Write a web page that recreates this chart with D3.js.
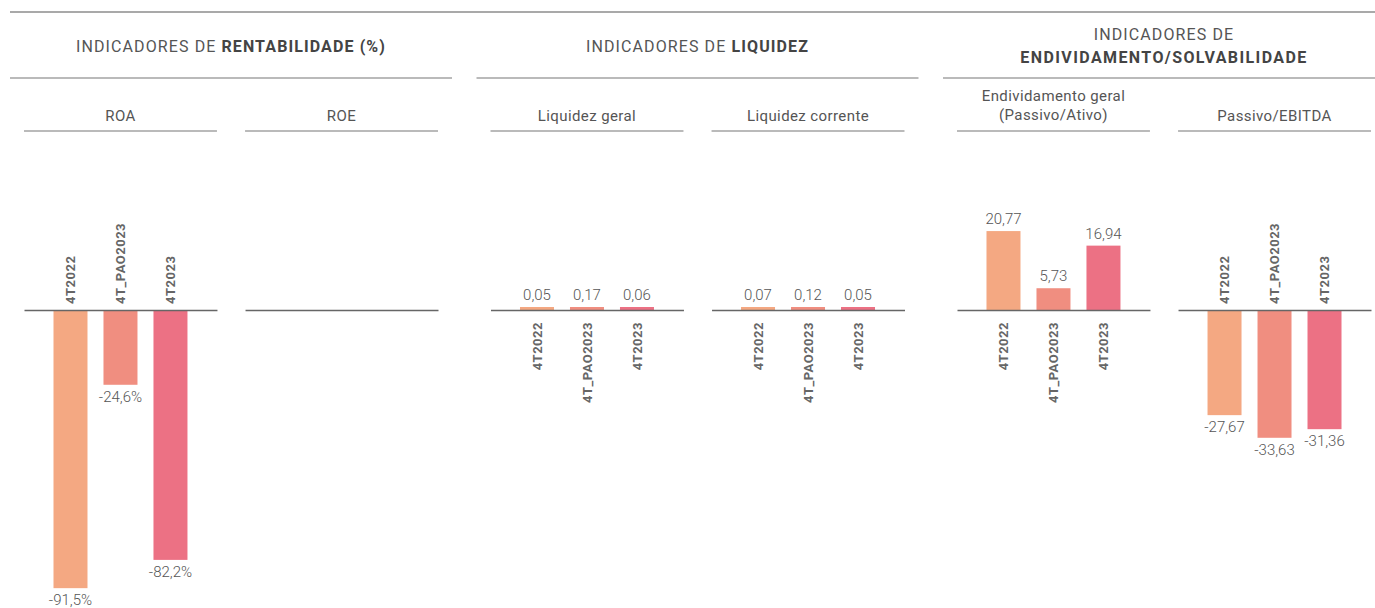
<!DOCTYPE html>
<html>
<head>
<meta charset="utf-8">
<script src="https://cdnjs.cloudflare.com/ajax/libs/d3/7.8.5/d3.min.js"></script>
<style>
  body { margin: 0; background: #fff; }
  svg { display: block; font-family: Roboto, "Liberation Sans", sans-serif; }
</style>
</head>
<body>
<div id="vis"></div>
<script>
// data
var periods = ["4T2022", "4T_PAO2023", "4T2023"];
var groupTitles = [
  ["INDICADORES DE ", "RENTABILIDADE (%)"],
  ["INDICADORES DE ", "LIQUIDEZ"],
  ["INDICADORES DE", "ENDIVIDAMENTO/SOLVABILIDADE"]
];
var panelTitles = ["ROA", "ROE", "Liquidez geral", "Liquidez corrente",
  "Endividamento geral|(Passivo/Ativo)", "Passivo/EBITDA"];
var roa = [-91.5, -24.6, -82.2];
var roe = [];
var liqGeral = [0.05, 0.17, 0.06];
var liqCorrente = [0.07, 0.12, 0.05];
var endividamento = [20.77, 5.73, 16.94];
var passivoEbitda = [-27.67, -33.63, -31.36];

var colors = ["#F4A882", "#F08E80", "#EC7184"];

var panels = [
  {group: 0, idx: 0, values: roa, pct: true},
  {group: 0, idx: 1, values: roe, pct: true},
  {group: 1, idx: 0, values: liqGeral},
  {group: 1, idx: 1, values: liqCorrente},
  {group: 2, idx: 0, values: endividamento},
  {group: 2, idx: 1, values: passivoEbitda}
];

var width = 1375, height = 608;
var baseY = 310;

var svg = d3.select('#vis')
  .append('svg')
  .attr('width', width)
  .attr('height', height);

var group_x = d3.scaleBand()
  .domain([0, 1, 2])
  .range([10, 1385])
  .paddingInner(0.0525);

var panel_x = d3.scaleBand()
  .domain([0, 1])
  .range([14, 428])
  .paddingInner(0.127);

var pw = panel_x.bandwidth();

var bar_x = d3.scaleBand()
  .domain(periods)
  .range([0, pw])
  .paddingInner(0.32)
  .paddingOuter(0.59);

// one scale for percentages, one for the ratio indicators
var y_pct = d3.scaleLinear().domain([-100, 100]).range([baseY + 304, baseY - 304]);
var y_ratio = d3.scaleLinear().domain([-40, 40]).range([baseY + 152, baseY - 152]);

function fmt(v, pct) {
  var s = pct ? d3.format(".1f")(v) : d3.format(".2f")(v);
  return s.replace('.', ',').replace('\u2212', '-') + (pct ? '%' : '');
}

// top rule
svg.append('line')
  .attr('x1', 10).attr('x2', width)
  .attr('y1', 12).attr('y2', 12)
  .attr('stroke', '#555').attr('stroke-width', 1.2);

// group headers
groupTitles.forEach(function(t, i) {
  var gx = group_x(i), gw = group_x.bandwidth();
  var cx = gx + gw / 2;
  if (i < 2) {
    var txt = svg.append('text')
      .attr('x', cx).attr('y', 52)
      .attr('text-anchor', 'middle')
      .style('font-size', '16px')
      .style('letter-spacing', '1.1px')
      .style('fill', '#555');
    txt.append('tspan').text(t[0]);
    txt.append('tspan').style('font-weight', 700).style('fill', '#444').text(t[1]);
  } else {
    svg.append('text')
      .attr('x', cx).attr('y', 40)
      .attr('text-anchor', 'middle')
      .style('font-size', '16px')
      .style('letter-spacing', '1.1px')
      .style('fill', '#555')
      .text(t[0]);
    svg.append('text')
      .attr('x', cx).attr('y', 63)
      .attr('text-anchor', 'middle')
      .style('font-size', '16px')
      .style('letter-spacing', '1.4px')
      .style('font-weight', 700)
      .style('fill', '#444')
      .text(t[1]);
  }
  svg.append('line')
    .attr('x1', gx).attr('x2', gx + gw)
    .attr('y1', 78).attr('y2', 78)
    .attr('stroke', '#777').attr('stroke-width', 1.2);
});

panels.forEach(function(p, k) {
  var px = group_x(p.group) + panel_x(p.idx);
  var g = svg.append('g')
    .attr('transform', 'translate(' + px + ',0)');

  // panel title
  var lines = panelTitles[k].split('|');
  lines.forEach(function(l, j) {
    g.append('text')
      .attr('x', pw / 2)
      .attr('y', lines.length > 1 ? 101 + j * 19 : 121)
      .attr('text-anchor', 'middle')
      .style('font-size', '15px')
      .style('letter-spacing', '0.4px')
      .style('fill', '#555')
      .text(l);
  });
  g.append('line')
    .attr('x1', 0).attr('x2', pw)
    .attr('y1', 131).attr('y2', 131)
    .attr('stroke', '#777').attr('stroke-width', 1.2);

  var y = p.pct ? y_pct : y_ratio;
  var data = p.values.map(function(v, i) { return {key: periods[i], value: v, i: i}; });
  var neg = data.length && d3.max(data, function(d) { return d.value; }) < 0;

  var x = bar_x.copy().domain(data.map(function(d) { return d.key; }));
  var axis = (neg ? d3.axisTop(x) : d3.axisBottom(x)).tickSize(0);

  g.selectAll('.bar')
    .data(data)
    .enter()
    .append('rect')
    .attr('class', 'bar')
    .attr('x', function(d) { return x(d.key); })
    .attr('width', x.bandwidth())
    .attr('y', function(d) {
      var h = Math.max(3, Math.abs(y(d.value) - y(0)));
      return d.value >= 0 ? y(0) - h : y(0);
    })
    .attr('height', function(d) { return Math.max(3, Math.abs(y(d.value) - y(0))); })
    .attr('fill', function(d) { return colors[d.i]; });

  var ax = g.append('g')
    .attr('transform', 'translate(0,' + baseY + ')')
    .call(axis);
  ax.select('.domain').attr('stroke', '#666').attr('stroke-width', 1.5);
  ax.selectAll('text')
    .attr('transform', 'rotate(-90)')
    .attr('y', 0)
    .attr('dy', '0.35em')
    .attr('x', neg ? 6 : -12)
    .attr('text-anchor', neg ? 'start' : 'end')
    .style('font-family', 'Roboto, sans-serif')
    .style('font-size', '13px')
    .style('letter-spacing', '0.5px')
    .style('font-weight', 700)
    .style('fill', '#666');

  // value labels
  g.selectAll('.val')
    .data(data)
    .enter()
    .append('text')
    .attr('class', 'val')
    .attr('x', function(d) { return x(d.key) + x.bandwidth() / 2; })
    .attr('y', function(d) {
      var h = Math.max(3, Math.abs(y(d.value) - y(0)));
      return d.value >= 0 ? y(0) - h - 7 : y(0) + h + 17;
    })
    .attr('text-anchor', 'middle')
    .style('font-size', '15px')
    .style('font-weight', 300)
    .style('fill', '#555')
    .text(function(d) { return fmt(d.value, p.pct); });
});
</script>
</body>
</html>
